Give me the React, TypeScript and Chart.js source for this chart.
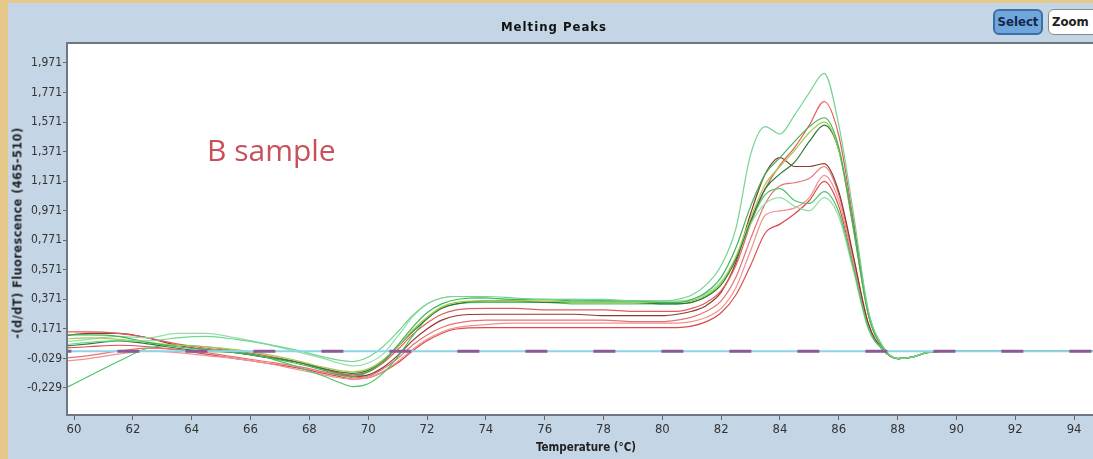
import React, { useEffect, useRef } from "react";
import { Chart, registerables } from "chart.js";
Chart.register(...registerables);

// Temperature grid (°C)
const temps = [
  59.5, 60.5, 61.5, 62.5, 63.5, 64.5, 65.5, 66.5, 67.5, 68.5,
  69, 69.5, 70, 70.5, 71, 71.5, 72, 72.5, 73,
  74, 75, 76, 77, 78, 79, 80,
  80.5, 81, 81.5, 82, 82.5, 83, 83.5, 84, 84.5, 85, 85.5, 86, 86.5, 87, 87.5, 88, 88.5, 89,
  90, 91, 92, 93, 94, 95.5,
];

const green1 = [
  0.06, 0.08, 0.09, 0.09, 0.11, 0.12, 0.10, 0.07, 0.03, -0.02,
  -0.04, -0.05, -0.02, 0.05, 0.15, 0.26, 0.34, 0.38, 0.39,
  0.39, 0.38, 0.37, 0.37, 0.37, 0.36, 0.36,
  0.37, 0.40, 0.47, 0.60, 0.85, 1.35, 1.54, 1.49, 1.62, 1.77, 1.90, 1.55, 0.95, 0.30, 0.05, -0.03, -0.02, 0.01,
  0.02, 0.02, 0.02, 0.02, 0.02, 0.02,
];
const green2 = [
  0.13, 0.13, 0.12, 0.08, 0.05, 0.03, 0.01, -0.02, -0.06, -0.11,
  -0.14, -0.15, -0.12, -0.05, 0.06, 0.18, 0.28, 0.34, 0.37,
  0.38, 0.37, 0.37, 0.36, 0.36, 0.36, 0.35,
  0.35, 0.37, 0.42, 0.52, 0.72, 1.00, 1.22, 1.33, 1.44, 1.54, 1.60, 1.40, 0.85, 0.27, 0.04, -0.03, -0.02, 0.01,
  0.02, 0.02, 0.02, 0.02, 0.02, 0.02,
];
const green3 = [
  0.10, 0.11, 0.10, 0.08, 0.06, 0.05, 0.03, 0.00, -0.04, -0.09,
  -0.11, -0.12, -0.10, -0.04, 0.05, 0.16, 0.25, 0.32, 0.35,
  0.36, 0.36, 0.36, 0.35, 0.35, 0.35, 0.35,
  0.35, 0.36, 0.40, 0.48, 0.66, 0.92, 1.15, 1.27, 1.38, 1.50, 1.57, 1.38, 0.84, 0.27, 0.04, -0.03, -0.02, 0.01,
  0.02, 0.02, 0.02, 0.02, 0.02, 0.02,
];
const green4 = [
  0.05, 0.07, 0.09, 0.07, 0.04, 0.02, 0.01, -0.02, -0.05, -0.10,
  -0.12, -0.13, -0.11, -0.05, 0.05, 0.15, 0.24, 0.31, 0.34,
  0.36, 0.36, 0.35, 0.35, 0.35, 0.35, 0.34,
  0.34, 0.35, 0.39, 0.47, 0.64, 0.90, 1.12, 1.22, 1.30, 1.44, 1.55, 1.38, 0.86, 0.28, 0.05, -0.03, -0.02, 0.01,
  0.02, 0.02, 0.02, 0.02, 0.02, 0.02,
];
const green5 = [
  -0.25, -0.15, -0.05, 0.04, 0.06, 0.05, 0.02, -0.02, -0.08, -0.15,
  -0.19, -0.22, -0.20, -0.13, -0.02, 0.12, 0.24, 0.31, 0.34,
  0.35, 0.35, 0.35, 0.34, 0.34, 0.34, 0.34,
  0.34, 0.35, 0.39, 0.47, 0.65, 0.90, 1.08, 1.12, 1.04, 1.02, 1.10, 0.96, 0.58, 0.18, 0.03, -0.03, -0.02, 0.01,
  0.02, 0.02, 0.02, 0.02, 0.02, 0.02,
];
const green6 = [
  0.08, 0.10, 0.12, 0.11, 0.14, 0.14, 0.11, 0.07, 0.02, -0.03,
  -0.06, -0.08, -0.06, 0.00, 0.12, 0.25, 0.34, 0.38, 0.39,
  0.38, 0.37, 0.37, 0.37, 0.36, 0.36, 0.36,
  0.36, 0.37, 0.41, 0.49, 0.65, 0.88, 1.02, 1.06, 1.00, 0.97, 1.06, 0.93, 0.56, 0.17, 0.03, -0.03, -0.02, 0.01,
  0.02, 0.02, 0.02, 0.02, 0.02, 0.02,
];
const red1 = [
  0.15, 0.15, 0.14, 0.11, 0.07, 0.04, 0.02, -0.01, -0.05, -0.10,
  -0.13, -0.14, -0.12, -0.06, 0.03, 0.13, 0.21, 0.27, 0.30,
  0.31, 0.31, 0.30, 0.30, 0.30, 0.29, 0.29,
  0.29, 0.31, 0.35, 0.43, 0.60, 0.88, 1.12, 1.28, 1.40, 1.55, 1.71, 1.48, 0.90, 0.29, 0.04, -0.03, -0.02, 0.01,
  0.02, 0.02, 0.02, 0.02, 0.02, 0.02,
];
const red2 = [
  0.12, 0.14, 0.14, 0.11, 0.06, 0.03, 0.01, -0.02, -0.05, -0.10,
  -0.13, -0.15, -0.14, -0.09, -0.01, 0.09, 0.17, 0.23, 0.26,
  0.27, 0.27, 0.27, 0.27, 0.26, 0.26, 0.26,
  0.27, 0.29, 0.33, 0.42, 0.62, 0.95, 1.22, 1.33, 1.27, 1.27, 1.29, 1.10, 0.66, 0.21, 0.03, -0.03, -0.02, 0.01,
  0.02, 0.02, 0.02, 0.02, 0.02, 0.02,
];
const red3 = [
  -0.03, -0.01, 0.02, 0.04, 0.03, 0.01, -0.02, -0.05, -0.08, -0.12,
  -0.14, -0.16, -0.15, -0.10, -0.03, 0.06, 0.13, 0.18, 0.21,
  0.23, 0.23, 0.23, 0.23, 0.23, 0.22, 0.22,
  0.23, 0.25, 0.29, 0.36, 0.52, 0.78, 1.02, 1.14, 1.16, 1.19, 1.27, 1.08, 0.65, 0.21, 0.03, -0.03, -0.02, 0.01,
  0.02, 0.02, 0.02, 0.02, 0.02, 0.02,
];
const red4 = [
  -0.05, -0.03, 0.00, 0.02, 0.01, -0.01, -0.03, -0.06, -0.10, -0.14,
  -0.16, -0.17, -0.16, -0.12, -0.05, 0.03, 0.10, 0.15, 0.18,
  0.20, 0.21, 0.21, 0.21, 0.21, 0.21, 0.21,
  0.21, 0.22, 0.25, 0.31, 0.45, 0.70, 0.94, 0.97, 0.99, 1.06, 1.21, 1.04, 0.62, 0.20, 0.03, -0.03, -0.02, 0.01,
  0.02, 0.02, 0.02, 0.02, 0.02, 0.02,
];
const red5 = [
  0.04, 0.05, 0.06, 0.05, 0.03, 0.00, -0.03, -0.06, -0.09, -0.13,
  -0.15, -0.17, -0.16, -0.12, -0.06, 0.02, 0.09, 0.14, 0.17,
  0.18, 0.18, 0.18, 0.18, 0.18, 0.18, 0.18,
  0.18, 0.19, 0.22, 0.28, 0.40, 0.60, 0.82, 0.88, 0.95, 1.04, 1.17, 1.00, 0.60, 0.19, 0.03, -0.03, -0.02, 0.01,
  0.02, 0.02, 0.02, 0.02, 0.02, 0.02,
];
// Negative controls / blanks (flat)
const blank = [
  0.02, 0.02, 0.02, 0.02, 0.02, 0.02, 0.02, 0.02, 0.02, 0.02,
  0.02, 0.02, 0.02, 0.02, 0.02, 0.02, 0.02, 0.02, 0.02,
  0.02, 0.02, 0.02, 0.02, 0.02, 0.02, 0.02,
  0.02, 0.02, 0.02, 0.02, 0.02, 0.02, 0.02, 0.02, 0.02, 0.02, 0.02, 0.02, 0.02, 0.02, 0.02, 0.02, 0.02, 0.02,
  0.02, 0.02, 0.02, 0.02, 0.02, 0.02,
];

const xTicks = [60, 62, 64, 66, 68, 70, 72, 74, 76, 78, 80, 82, 84, 86, 88, 90, 92, 94];
const yTicks = [1.971, 1.771, 1.571, 1.371, 1.171, 0.971, 0.771, 0.571, 0.371, 0.171, -0.029, -0.229];

const seriesList = [
  { values: green1, color: "#74d490" },
  { values: green2, color: "#3fb45a" },
  { values: green3, color: "#a8c84e" },
  { values: green4, color: "#2f7a3a" },
  { values: green5, color: "#4cc46a" },
  { values: green6, color: "#8fe0a8" },
  { values: red1, color: "#e25c5c" },
  { values: red2, color: "#8e3a2e" },
  { values: red3, color: "#e67272" },
  { values: red4, color: "#f29090" },
  { values: red5, color: "#d94c4c" },
];

const tickFont = { family: "'Liberation Sans Narrow', 'DejaVu Sans Condensed', sans-serif", size: 12 };

export default function App() {
  const ref = useRef<HTMLCanvasElement>(null);
  useEffect(() => {
    const pts = (vals: number[]) => temps.map((t, i) => ({ x: t, y: vals[i] }));
    const datasets: any[] = [
      {
        data: pts(blank),
        borderColor: "#8a5a92",
        borderWidth: 3,
        borderDash: [22, 46],
        borderDashOffset: 10,
        tension: 0,
      },
      {
        data: pts(blank),
        borderColor: "#8fd4e6",
        borderWidth: 2,
        tension: 0,
      },
      ...seriesList.map((s) => ({
        data: pts(s.values),
        borderColor: s.color,
        borderWidth: 1.2,
        cubicInterpolationMode: "monotone",
      })),
    ];
    const framePlugin = {
      id: "frame",
      beforeDatasetsDraw(chart: any) {
        const { ctx, chartArea: a } = chart;
        ctx.save();
        ctx.fillStyle = "#ffffff";
        ctx.fillRect(a.left, a.top, a.right - a.left, a.bottom - a.top);
        ctx.restore();
      },
      afterDatasetsDraw(chart: any) {
        const { ctx, chartArea: a } = chart;
        ctx.save();
        ctx.strokeStyle = "#6f7882";
        ctx.lineWidth = 2;
        ctx.strokeRect(a.left, a.top, a.right - a.left, a.bottom - a.top);
        ctx.restore();
      },
    };
    const chart = new Chart(ref.current!, {
      type: "line",
      data: { datasets },
      options: {
        responsive: false,
        animation: false,
        layout: { padding: { top: 43, left: 0, right: 0, bottom: 0 } },
        plugins: { legend: { display: false }, tooltip: { enabled: false }, title: { display: false } },
        elements: { point: { radius: 0 } },
        scales: {
          x: {
            type: "linear",
            min: 59.76,
            max: 95.05,
            afterBuildTicks: (s: any) => {
              s.ticks = xTicks.map((v) => ({ value: v }));
            },
            afterFit: (s: any) => {
              s.height = 44;
            },
            grid: { drawOnChartArea: false, drawTicks: true, tickLength: 5, color: "#666" },
            border: { display: false },
            ticks: {
              autoSkip: false,
              maxRotation: 0,
              padding: 2,
              color: "#333",
              font: { ...tickFont, size: 13 },
              callback: (v: any) => String(v),
            },
          },
          y: {
            type: "linear",
            min: -0.412,
            max: 2.106,
            afterBuildTicks: (s: any) => {
              s.ticks = yTicks.map((v) => ({ value: v }));
            },
            afterFit: (s: any) => {
              s.width = 67;
            },
            grid: { drawOnChartArea: false, drawTicks: true, tickLength: 4, color: "#666" },
            border: { display: false },
            ticks: {
              autoSkip: false,
              padding: 1,
              color: "#333",
              font: tickFont,
              callback: (v: any) => Number(v).toFixed(3).replace(".", ","),
            },
          },
        },
      },
      plugins: [framePlugin],
    } as any);
    return () => chart.destroy();
  }, []);

  const cond = "'DejaVu Sans Condensed', 'Liberation Sans Narrow', sans-serif";
  return (
    <div style={{ position: "fixed", left: 0, top: 0, width: 1093, height: 459, overflow: "hidden", background: "#e6c88a" }}>
      <div style={{ position: "absolute", left: 8, top: 3, width: 1100, height: 470, background: "#c4d5e6" }} />
      <canvas ref={ref} width={1105} height={459} style={{ position: "absolute", left: 0, top: 0 }} />
      <div style={{ position: "absolute", left: 0, top: 20, width: 1108, textAlign: "center", font: `bold 13px ${cond}`, letterSpacing: "1px", lineHeight: "14px", color: "#111" }}>
        Melting Peaks
      </div>
      <div style={{ position: "absolute", left: 993, top: 9, width: 50, height: 26, boxSizing: "border-box", borderRadius: 6, background: "#6fa6dc", border: "2px solid #3d6fa5", font: `bold 13px ${cond}`, color: "#14264a", textAlign: "center", lineHeight: "22px" }}>
        Select
      </div>
      <div style={{ position: "absolute", left: 1048, top: 9, width: 56, height: 26, boxSizing: "border-box", borderRadius: 6, background: "#ffffff", border: "1.5px solid #8a8a8a", font: `bold 13px ${cond}`, color: "#222", textAlign: "left", paddingLeft: 3, lineHeight: "23px" }}>
        Zoom
      </div>
      <div style={{ position: "absolute", left: 17, top: 233, transform: "translate(-50%, -50%) rotate(-90deg)", whiteSpace: "nowrap", font: `bold 12.5px ${cond}`, letterSpacing: "0.5px", color: "#222" }}>
        -(d/dT) Fluorescence (465-510)
      </div>
      <div style={{ position: "absolute", left: 586, top: 447, transform: "translate(-50%, -50%)", whiteSpace: "nowrap", font: `bold 11.5px ${cond}`, color: "#222" }}>
        Temperature (°C)
      </div>
      <div style={{ position: "absolute", left: 207, top: 135, font: "30px 'Open Sans', sans-serif", lineHeight: "30px", color: "#c8505a", whiteSpace: "nowrap" }}>
        B sample
      </div>
    </div>
  );
}
